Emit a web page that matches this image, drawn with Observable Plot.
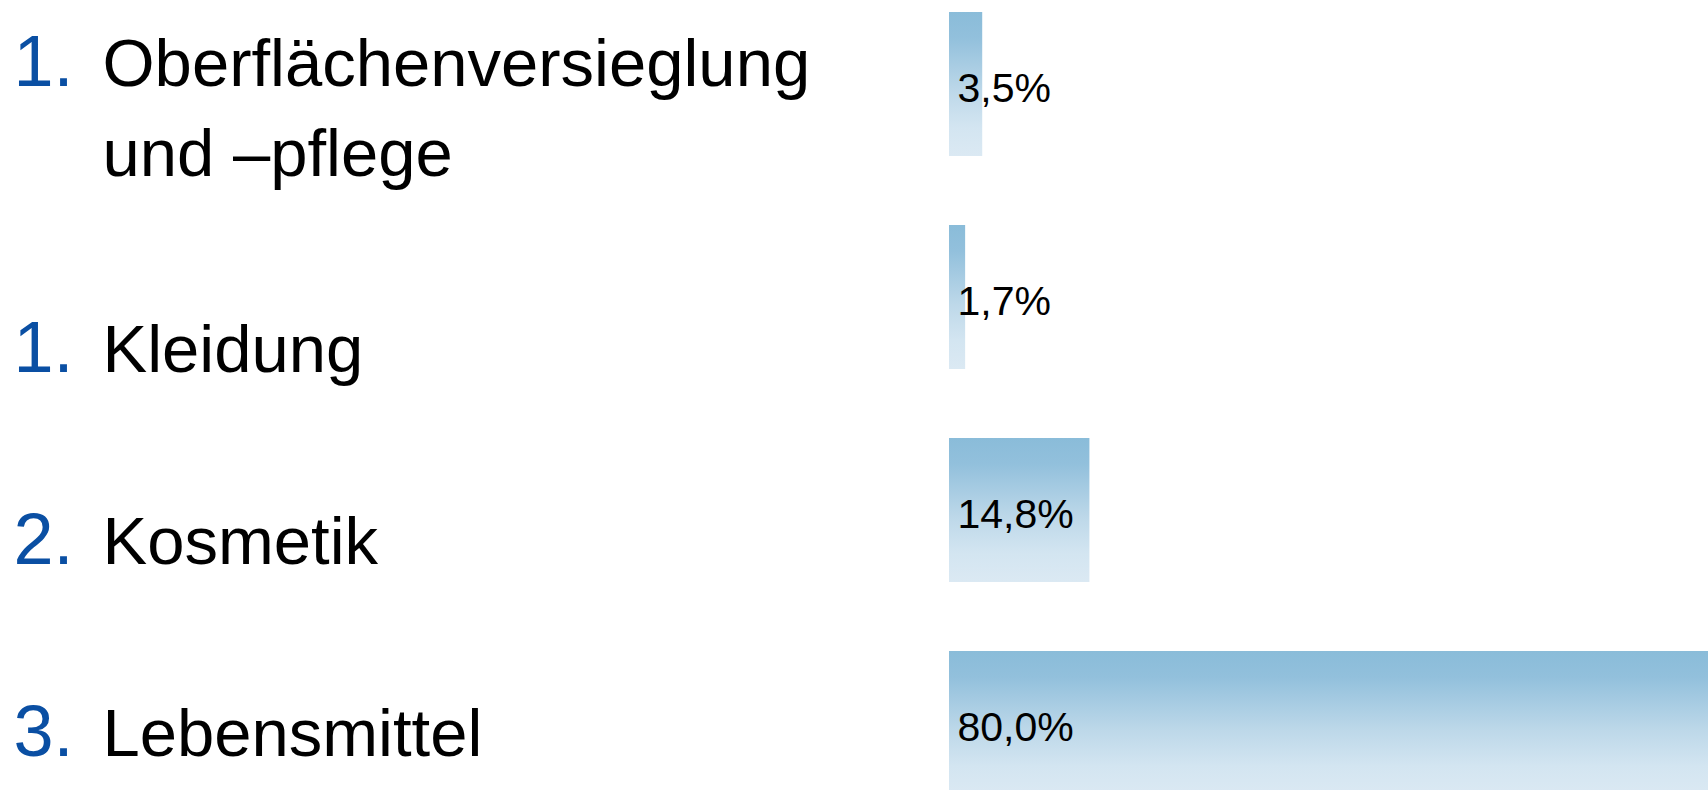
<!DOCTYPE html>
<html><head><meta charset="utf-8">
<script src="https://cdn.jsdelivr.net/npm/d3@7"></script>
<script src="https://cdn.jsdelivr.net/npm/@observablehq/plot@0.6"></script>
<style>html,body{margin:0;padding:0;background:#fff;overflow:hidden}</style>
</head><body><div id="chart"></div>
<script>
// Data
const ranks = ["1.", "1.", "2.", "3."];
const categories = ["Oberflächenversieglung\nund –pflege", "Kleidung", "Kosmetik", "Lebensmittel"];
const shares = [3.5, 1.7, 14.8, 80.0];
const valueLabels = ["3,5%", "1,7%", "14,8%", "80,0%"];

const rows = categories.map((c, i) => ({category: c, rank: ranks[i], share: shares[i], label: valueLabels[i]}));

// Layout constants
const W = 1708, H = 790, ML = 949;
const labelDy = [91, 74, 53, 32];   // baseline of last label line relative to bar centre
const lineH = 1.33;
const FS = 67;

const gradientDefs = () => {
  const ns = "http://www.w3.org/2000/svg";
  const defs = document.createElementNS(ns, "defs");
  defs.innerHTML = `<linearGradient id="barGrad" x1="0" y1="0" x2="0" y2="1">
    <stop offset="0" stop-color="#8abcd9"/>
    <stop offset="0.18" stop-color="#92c0dc"/>
    <stop offset="0.55" stop-color="#bdd8e9"/>
    <stop offset="0.8" stop-color="#d3e5f1"/>
    <stop offset="1" stop-color="#dbe9f3"/>
  </linearGradient>`;
  return defs;
};

const labelMarks = rows.flatMap((r, i) => {
  const nLines = r.category.split("\n").length;
  return [
    Plot.text([r], {y: "category", text: "rank", frameAnchor: "left", textAnchor: "start",
      lineAnchor: "bottom", dx: 13 - ML, dy: labelDy[i] - (nLines - 1) * lineH * FS,
      fontSize: 72, fill: "#0a4fa3"}),
    Plot.text([r], {y: "category", text: "category", frameAnchor: "left", textAnchor: "start",
      lineAnchor: "bottom", lineHeight: lineH, dx: 102 - ML, dy: labelDy[i],
      fontSize: FS, fill: "#000"})
  ];
});

const chart = Plot.plot({
  width: W, height: H,
  marginLeft: ML, marginRight: 0, marginTop: 0, marginBottom: 0,
  style: {fontFamily: "'Liberation Sans', Arial, Helvetica, sans-serif", background: "#fff", overflow: "hidden"},
  x: {domain: [0, 80], axis: null},
  y: {domain: categories, range: [11, 795], paddingInner: 0.325, paddingOuter: 0, axis: null},
  marks: [
    gradientDefs,
    Plot.barX(rows, {x: "share", y: "category", fill: "url(#barGrad)"}),
    Plot.text(rows, {x: 0, y: "category", text: "label", textAnchor: "start", dx: 8, dy: 4, fontSize: 41, fill: "#000"}),
    ...labelMarks
  ]
});
document.getElementById("chart").appendChild(chart);
</script>
</body></html>
